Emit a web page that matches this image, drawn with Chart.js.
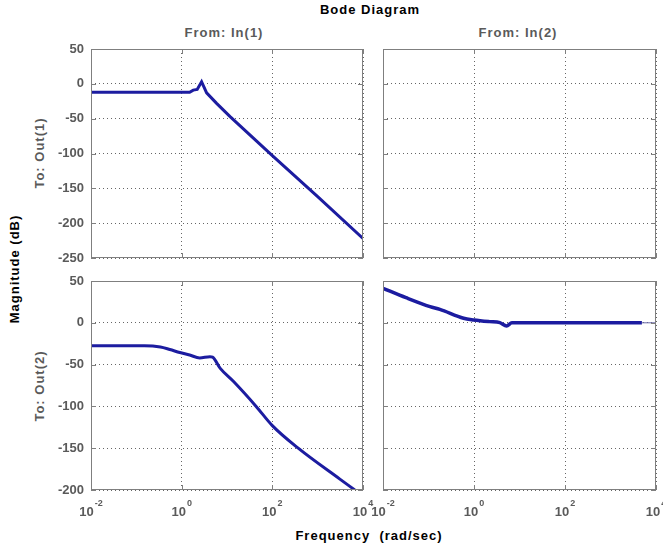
<!DOCTYPE html>
<html>
<head>
<meta charset="utf-8">
<script src="https://cdn.jsdelivr.net/npm/chart.js@4.4.0/dist/chart.umd.min.js"></script>
<style>
    body { margin: 0; width: 663px; height: 548px; overflow: hidden; background: #fff; position: relative;
           font-family: "Liberation Sans", Arial, sans-serif; font-weight: bold; }
    canvas { position: absolute; }
    .lbl { position: absolute; white-space: nowrap; font-size: 13px; letter-spacing: 1px; transform: translate(-50%, -50%); }
    .rot { transform: translate(-50%, -50%) rotate(-90deg); }
    .gray { color: #5a5a5a; }
</style>
</head>
<body>
<div class="lbl" style="left:370px;top:9px;">Bode Diagram</div>
<div class="lbl gray" style="left:224px;top:32px;">From: In(1)</div>
<div class="lbl gray" style="left:518px;top:32px;">From: In(2)</div>
<div class="lbl gray rot" style="left:39px;top:153px;">To: Out(1)</div>
<div class="lbl gray rot" style="left:39px;top:386px;">To: Out(2)</div>
<div class="lbl rot" style="left:14px;top:269px;">Magnitude (dB)</div>
<div class="lbl" style="left:369px;top:535px;">Frequency&nbsp;&nbsp;(rad/sec)</div>

<canvas id="c11" width="343" height="228" style="left:36px;top:40px;"></canvas>
<canvas id="c12" width="344" height="228" style="left:328px;top:40px;"></canvas>
<canvas id="c21" width="343" height="248" style="left:36px;top:272px;"></canvas>
<canvas id="c22" width="344" height="248" style="left:328px;top:272px;"></canvas>

<script>
// Axis ticks
const xTicks = [0.01, 1, 100, 10000];
const yTicksTop = [50, 0, -50, -100, -150, -200, -250];
const yTicksBottom = [50, 0, -50, -100, -150, -200];

// From In(1) to Out(1)
const w11 = [0.01, 1.5, 1.8, 2.2, 2.75, 3.55, 5.9, 11.7, 100, 1000, 10000];
const mag11 = [-12, -12, -9, -8, 3, -13, -28, -47, -103, -162, -222];

// From In(1) to Out(2)
const w21 = [0.01, 0.15, 0.34, 0.55, 0.91, 1.5, 2.5, 4.2, 4.8, 7.1, 13.8, 44, 100, 372, 3090, 6600];
const mag21 = [-27.5, -27.5, -29, -32, -35.5, -38.5, -42, -40.5, -41, -54.5, -70, -100, -123, -150, -187, -200];

// From In(2) to Out(2)
const w22 = [0.01, 0.032, 0.108, 0.178, 0.59, 1, 2.2, 3.7, 5.2, 6.8, 4900];
const mag22 = [41.3, 30, 19.3, 16, 5.4, 3.4, 1.4, 0.2, -3.8, 0, 0];
const w22tail = [4900, 10000];
const mag22tail = [0, 0];

const LINE = '#1c1ca0';
const TEXT = '#5a5a5a';
const FRAME = '#7f7f7f';
const GRID = '#666';
const FONT = "'Liberation Sans', Arial, sans-serif";

const toPoints = (w, m) => w.map((f, i) => ({ x: f, y: m[i] }));

// Box around the axes, inner tick marks, and 10^n labels
const framePlugin = {
    id: 'frame',
    afterDraw(chart, args, opts) {
        const { ctx, chartArea: a, scales: { x, y } } = chart;
        ctx.save();
        ctx.strokeStyle = FRAME;
        ctx.lineWidth = 1;
        ctx.strokeRect(a.left + 0.5, a.top + 0.5, a.right - a.left - 1, a.bottom - a.top - 1);
        ctx.beginPath();
        x.ticks.forEach(t => {
            const px = Math.round(x.getPixelForValue(t.value)) + 0.5;
            ctx.moveTo(px, a.bottom); ctx.lineTo(px, a.bottom - 5);
            ctx.moveTo(px, a.top); ctx.lineTo(px, a.top + 5);
        });
        y.ticks.forEach(t => {
            const py = Math.round(y.getPixelForValue(t.value)) + 0.5;
            ctx.moveTo(a.left, py); ctx.lineTo(a.left + 5, py);
            ctx.moveTo(a.right, py); ctx.lineTo(a.right - 5, py);
        });
        ctx.stroke();

        if (opts.xLabels) {
            ctx.fillStyle = TEXT;
            ctx.textBaseline = 'alphabetic';
            x.ticks.forEach(t => {
                const px = x.getPixelForValue(t.value);
                const exp = String(Math.round(Math.log10(t.value)));
                ctx.font = `bold 13px ${FONT}`;
                const wBase = ctx.measureText('10').width;
                ctx.font = `bold 9px ${FONT}`;
                const wExp = ctx.measureText(exp).width;
                const start = px - (wBase + wExp + 1) / 2;
                ctx.font = `bold 13px ${FONT}`;
                ctx.fillText('10', start, a.bottom + 26);
                ctx.font = `bold 9px ${FONT}`;
                ctx.fillText(exp, start + wBase + 1, a.bottom + 16);
            });
        }
        ctx.restore();
    }
};

function makeChart(id, datasets, yTicks, showY, showX, xHeight) {
    return new Chart(document.getElementById(id), {
        type: 'line',
        data: { datasets },
        plugins: [framePlugin],
        options: {
            responsive: false,
            animation: false,
            devicePixelRatio: 1,
            layout: { padding: { top: 9, right: 16, bottom: 0, left: 0 } },
            plugins: { legend: { display: false }, tooltip: { enabled: false }, frame: { xLabels: showX } },
            elements: { point: { radius: 0 }, line: { tension: 0 } },
            scales: {
                x: {
                    type: 'logarithmic',
                    min: 0.01,
                    max: 10000,
                    afterBuildTicks: s => { s.ticks = xTicks.map(v => ({ value: v })); },
                    afterFit: s => { s.height = xHeight; s.paddingLeft = 0; s.paddingRight = 0; },
                    ticks: { display: false },
                    grid: { color: GRID, lineWidth: 1, drawTicks: false, borderDash: [1, 3] },
                    border: { display: false, dash: [1, 3] }
                },
                y: {
                    type: 'linear',
                    min: yTicks[yTicks.length - 1],
                    max: yTicks[0],
                    afterBuildTicks: s => { s.ticks = yTicks.map(v => ({ value: v })); },
                    afterFit: s => { s.width = 55; s.paddingTop = 0; s.paddingBottom = 0; },
                    ticks: { display: showY, autoSkip: false, padding: 7, color: TEXT, font: { family: FONT, size: 13, weight: 'bold' } },
                    grid: { color: GRID, lineWidth: 1, drawTicks: false, borderDash: [1, 3] },
                    border: { display: false, dash: [1, 3] }
                }
            }
        }
    });
}

const lineSet = (w, m, width, color, smooth) => ({
    data: toPoints(w, m), borderColor: color || LINE, borderWidth: width, fill: false, pointRadius: 0,
    cubicInterpolationMode: smooth ? 'monotone' : 'default'
});

makeChart('c11', [lineSet(w11, mag11, 3)], yTicksTop, true, false, 10);
makeChart('c12', [], yTicksTop, false, false, 10);
makeChart('c21', [lineSet(w21, mag21, 3, LINE, true)], yTicksBottom, true, true, 30);
makeChart('c22', [lineSet(w22tail, mag22tail, 1, '#6a6aa8'), lineSet(w22, mag22, 3.5, LINE, true)], yTicksBottom, false, true, 30);
</script>
</body>
</html>
